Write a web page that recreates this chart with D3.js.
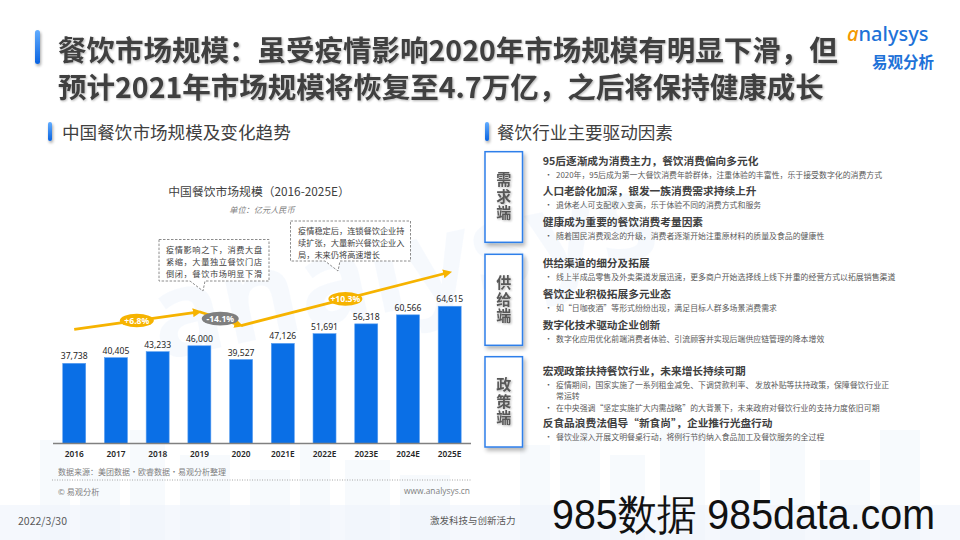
<!DOCTYPE html>
<html><head><meta charset="utf-8">
<script src="https://cdn.jsdelivr.net/npm/d3@7/dist/d3.min.js"></script>
<style>
html,body{margin:0;padding:0;background:#fff;}
svg{display:block;font-family:"Noto Sans CJK SC","Noto Sans",sans-serif;}
</style></head><body>
<svg id="c" width="960" height="540"></svg>
<script>
// ---------- DATA ----------
const titleLines = ['餐饮市场规模：虽受疫情影响2020年市场规模有明显下滑，但', '预计2021年市场规模将恢复至4.7万亿，之后将保持健康成长'];
const leftHeader = '中国餐饮市场规模及变化趋势';
const rightHeader = '餐饮行业主要驱动因素';
const chartTitle = '中国餐饮市场规模（2016-2025E）';
const chartUnit = '单位：亿元人民币';
const years = ['2016','2017','2018','2019','2020','2021E','2022E','2023E','2024E','2025E'];
const values = [37738, 40405, 43233, 46000, 39527, 47126, 51691, 56318, 60566, 64615];
const growthFrom = [0, 3, 4];
const growthTo = [3, 4, 9];
const growthLabels = ['+6.8%', '-14.1%', '+10.3%'];
const growthUp = [true, false, true];
const note1 = ['疫情影响之下，消费大盘', '紧缩，大量独立餐饮门店', '倒闭，餐饮市场明显下滑'];
const note2 = ['疫情稳定后，连锁餐饮企业持', '续扩张，大量新兴餐饮企业入', '局，未来仍将高速增长'];
const sourceText = '数据来源：美团数据·欧睿数据·易观分析整理';
const copyText = '© 易观分析';
const siteText = 'www.analysys.cn';
const driverLabels = ['需求端', '供给端', '政策端'];
const demandItems = [
  {h: '95后逐渐成为消费主力，餐饮消费偏向多元化', b: [['2020年，95后成为第一大餐饮消费年龄群体，注重体验的丰富性，乐于接受数字化的消费方式']]},
  {h: '人口老龄化加深，银发一族消费需求持续上升', b: [['退休老人可支配收入变高，乐于体验不同的消费方式和服务']]},
  {h: '健康成为重要的餐饮消费考量因素', b: [['随着国民消费观念的升级，消费者逐渐开始注重原材料的质量及食品的健康性']]}
];
const supplyItems = [
  {h: '供给渠道的细分及拓展', b: [['线上半成品零售及外卖渠道发展迅速，更多商户开始选择线上线下并重的经营方式以拓展销售渠道']]},
  {h: '餐饮企业积极拓展多元业态', b: [['如“日咖夜酒”等形式纷纷出现，满足目标人群多场景消费需求']]},
  {h: '数字化技术驱动企业创新', b: [['数字化应用优化前端消费者体验、引流顾客并实现后端供应链管理的降本增效']]}
];
const policyItems = [
  {h: '宏观政策扶持餐饮行业，未来增长持续可期', b: [['疫情期间，国家实施了一系列租金减免、下调贷款利率、 发放补贴等扶持政策，保障餐饮行业正', '常运转'], ['在中央强调“坚定实施扩大内需战略”的大背景下，未来政府对餐饮行业的支持力度依旧可期']]},
  {h: '反食品浪费法倡导“新食尚”，企业推行光盘行动', b: [['餐饮业深入开展文明餐桌行动，将例行节约纳入食品加工及餐饮服务的全过程']]}
];
const driverGroups = [demandItems, supplyItems, policyItems];
const footerDate = '2022/3/30';
const footerSlogan = '激发科技与创新活力';
const watermark = '985数据 985data.com';

// ---------- DRAW ----------
const svg = d3.select('#c');
const defs = svg.append('defs');
const g1 = defs.append('linearGradient').attr('id','bluebar').attr('x1',0).attr('y1',0).attr('x2',0).attr('y2',1);
g1.append('stop').attr('offset','0%').attr('stop-color','#62adff');
g1.append('stop').attr('offset','100%').attr('stop-color','#0a63e0');
const glow = defs.append('filter').attr('id','glow').attr('x','-200%').attr('y','-50%').attr('width','500%').attr('height','200%');
glow.append('feGaussianBlur').attr('in','SourceAlpha').attr('stdDeviation',1.5).attr('result','b');
glow.append('feOffset').attr('in','b').attr('dx',1).attr('dy',1.5).attr('result','o');
glow.append('feComponentTransfer').attr('in','o').attr('result','s').append('feFuncA').attr('type','linear').attr('slope',0.35);
const gm = glow.append('feMerge'); gm.append('feMergeNode').attr('in','s'); gm.append('feMergeNode').attr('in','SourceGraphic');
const shadow = defs.append('filter').attr('id','shadow').attr('x','-30%').attr('y','-20%').attr('width','160%').attr('height','140%');
shadow.append('feGaussianBlur').attr('in','SourceAlpha').attr('stdDeviation',2).attr('result','b');
shadow.append('feOffset').attr('in','b').attr('dx',2).attr('dy',3).attr('result','o');
shadow.append('feComponentTransfer').attr('in','o').attr('result','s').append('feFuncA').attr('type','linear').attr('slope',0.3);
const sm = shadow.append('feMerge'); sm.append('feMergeNode').attr('in','s'); sm.append('feMergeNode').attr('in','SourceGraphic');
const txtShadow = defs.append('filter').attr('id','tshadow').attr('x','-20%').attr('y','-20%').attr('width','140%').attr('height','140%');
txtShadow.append('feGaussianBlur').attr('in','SourceAlpha').attr('stdDeviation',0.8).attr('result','b');
txtShadow.append('feOffset').attr('in','b').attr('dx',1).attr('dy',1).attr('result','o');
txtShadow.append('feComponentTransfer').attr('in','o').attr('result','s').append('feFuncA').attr('type','linear').attr('slope',0.3);
const tm = txtShadow.append('feMerge'); tm.append('feMergeNode').attr('in','s'); tm.append('feMergeNode').attr('in','SourceGraphic');
const gold = '#F6B300';
defs.append('marker').attr('id','ahead').attr('viewBox','0 0 10 10').attr('refX',5).attr('refY',5)
  .attr('markerWidth',3.2).attr('markerHeight',3.2).attr('orient','auto').attr('markerUnits','strokeWidth')
  .append('path').attr('d','M0,0 L10,5 L0,10 z').attr('fill',gold);

// faint background skyline
const bg = svg.append('g').attr('fill','#e9f1fb').attr('opacity',0.35);
const bgBuildings = [[40,440,30,100],[80,470,40,70],[130,430,35,110],[180,455,50,85],[250,470,40,70],[300,445,30,95],[345,460,45,80],[400,475,50,65],[520,445,30,95],[560,420,40,120],[610,455,35,85],[660,430,45,110],[720,470,40,70],[770,440,35,100],[820,460,50,80],[880,430,40,110]];
bg.selectAll('rect').data(bgBuildings).join('rect').attr('x',d=>d[0]).attr('y',d=>d[1]).attr('width',d=>d[2]).attr('height',d=>d[3]);
svg.append('rect').attr('x',0).attr('y',505).attr('width',960).attr('height',35).attr('fill','#eef4fc').attr('opacity',0.6);

// faint watermark logo behind chart
svg.append('text').attr('x',150).attr('y',330).attr('font-size',120).attr('font-family','Noto Sans').attr('font-weight',700)
  .attr('fill','#2a7be4').attr('opacity',0.035).attr('transform','rotate(-12,300,300)').text('analysys');

// Title
svg.append('rect').attr('x',35).attr('y',30).attr('width',5).attr('height',34).attr('rx',2.5).attr('fill','url(#bluebar)').attr('filter','url(#glow)');
svg.selectAll('text.title').data(titleLines).join('text').attr('class','title')
  .attr('x',58).attr('y',(d,i)=>48+i*37).attr('dominant-baseline','central')
  .attr('font-size',28.5).attr('font-weight',700).attr('fill','#404040').attr('filter','url(#tshadow)').text(d=>d);

// Logo
const logo = svg.append('text').attr('x',847).attr('y',41).attr('font-family','Noto Sans').attr('font-size',20).attr('font-weight',500);
logo.append('tspan').attr('fill','#F39800').attr('font-style','italic').text('a');
logo.append('tspan').attr('fill','#1E72D8').text('nalysys');
svg.append('text').attr('x',903).attr('y',61).attr('text-anchor','middle').attr('dominant-baseline','central')
  .attr('font-size',15.5).attr('font-weight',700).attr('fill','#1E72D8').text('易观分析');

// Section headers
[[48,62,leftHeader],[485,497,rightHeader]].forEach(([bx,tx,t])=>{
  svg.append('rect').attr('x',bx).attr('y',122).attr('width',4).attr('height',19).attr('rx',2).attr('fill','url(#bluebar)').attr('filter','url(#glow)');
  svg.append('text').attr('x',tx).attr('y',131.5).attr('dominant-baseline','central').attr('font-size',17.6).attr('fill','#404040').text(t);
});

// Chart title
svg.append('text').attr('x',259).attr('y',190).attr('text-anchor','middle').attr('dominant-baseline','central')
  .attr('font-size',11.8).attr('fill','#404040').text(chartTitle);
svg.append('text').attr('x',262).attr('y',208.5).attr('text-anchor','middle').attr('dominant-baseline','central')
  .attr('font-size',8.2).attr('font-style','italic').attr('fill','#7f7f7f').text(chartUnit);

// Scales
const x = d3.scaleBand().domain(years).range([52.3, 471.6]).paddingInner(0.449).paddingOuter(0.25);
const y = d3.scaleLinear().domain([0, 70000]).range([443.5, 294.8]);
const barBlue = '#0A6FE6';

svg.append('g').selectAll('rect').data(values).join('rect')
  .attr('x',(d,i)=>x(years[i])).attr('y',d=>y(d)).attr('width',x.bandwidth()).attr('height',d=>y(0)-y(d))
  .attr('fill',barBlue).attr('stroke','#5a9ef0').attr('stroke-width',0.6);

svg.append('g').selectAll('text').data(values).join('text')
  .attr('x',(d,i)=>x(years[i])+x.bandwidth()/2).attr('y',d=>y(d)-7).attr('text-anchor','middle').attr('dominant-baseline','central')
  .attr('font-size',8.6).attr('font-family','Noto Sans').attr('fill','#262626').text(d=>d3.format(',')(d));

// x axis
const xAxis = svg.append('g').attr('transform',`translate(0,${y(0)})`).call(d3.axisBottom(x).tickSize(0).tickPadding(8));
xAxis.select('.domain').attr('stroke','#808080').attr('stroke-width',1.5).attr('d','M53,0H471');
xAxis.selectAll('text').attr('font-size',8.3).attr('font-family','Noto Sans').attr('font-weight',600).attr('fill','#262626');

// growth arrows
const pt = i => [x(years[i]) + x.bandwidth()/2, y(values[i]) - 34];
growthFrom.forEach((f,k)=>{
  const a = pt(f), b = pt(growthTo[k]);
  svg.append('line').attr('x1',a[0]).attr('y1',a[1]).attr('x2',b[0]-2).attr('y2',b[1] - (b[1]-a[1])*2/(b[0]-a[0]))
    .attr('stroke',gold).attr('stroke-width',2.8).attr('marker-end','url(#ahead)');
});
growthFrom.forEach((f,k)=>{
  const a = pt(f), b = pt(growthTo[k]);
  const cx = (a[0]+b[0])/2, cy = (a[1]+b[1])/2;
  svg.append('ellipse').attr('cx',cx).attr('cy',cy).attr('rx',growthUp[k]?17:18.5).attr('ry',6.8)
    .attr('fill',growthUp[k]?gold:'#7f7f7f');
  svg.append('text').attr('x',cx).attr('y',cy).attr('text-anchor','middle').attr('dominant-baseline','central')
    .attr('font-size',8.6).attr('font-family','Noto Sans').attr('font-weight',700).attr('fill','#fff').text(growthLabels[k]);
});

// annotation callouts
function callout(path, lines, tx, ty0, ls){
  svg.append('path').attr('d',path).attr('fill','#fff').attr('stroke','#8c8c8c').attr('stroke-width',1).attr('stroke-dasharray','2.5,1.5');
  const t = svg.append('text').attr('font-size',8.2).attr('letter-spacing',ls).attr('fill','#404040');
  t.selectAll('tspan').data(lines).join('tspan').attr('x',tx).attr('y',(d,i)=>ty0+i*12).attr('dominant-baseline','central').text(d=>d);
}
callout('M159,239.5H269V281H205L203,291L190,281H159Z', note1, 166, 249.3, 0.6);
callout('M290.5,221H410.5V261H340L338,271L325,261H290.5Z', note2, 298, 229.5, 0);

// source / footer of chart
svg.append('text').attr('x',58).attr('y',471.7).attr('dominant-baseline','central').attr('font-size',8).attr('fill','#7f7f7f').text(sourceText);
svg.append('line').attr('x1',52).attr('x2',471).attr('y1',480).attr('y2',480).attr('stroke','#a6a6a6').attr('stroke-width',1).attr('stroke-dasharray','1,1.5');
svg.append('text').attr('x',58).attr('y',490.7).attr('dominant-baseline','central').attr('font-size',8.2).attr('fill','#7f7f7f').text(copyText);
svg.append('text').attr('x',470).attr('y',490.7).attr('text-anchor','end').attr('dominant-baseline','central').attr('font-family','Open Sans').attr('font-size',8.4).attr('fill','#7f7f7f').text(siteText);

// Right panel
const boxTops = [151.7, 254.3, 356.7];
const boxH = [90.6, 91, 90.3];
const groupStart = [160, 262.7, 370];
driverLabels.forEach((lab,i)=>{
  svg.append('rect').attr('x',485).attr('y',boxTops[i]).attr('width',37.5).attr('height',boxH[i])
    .attr('fill','#fff').attr('stroke','#2F7FEA').attr('stroke-width',1.5).attr('filter','url(#shadow)');
  const cy = boxTops[i] + boxH[i]/2;
  svg.append('text').attr('x',503.7).attr('y',cy).attr('text-anchor','middle')
    .style('writing-mode','vertical-rl').attr('letter-spacing',1.6)
    .attr('font-size',15).attr('font-weight',700).attr('fill','#595959').attr('filter','url(#tshadow)').text(lab);
  let yy = groupStart[i];
  driverGroups[i].forEach((item,k)=>{
    if(k>0) yy += (i===2 ? 15 : 16.8);
    svg.append('text').attr('x',542.7).attr('y',yy).attr('dominant-baseline','central').attr('font-size',10.7)
      .attr('font-weight',700).attr('fill','#404040').text(item.h);
    yy += 14;
    item.b.forEach((bl,m)=>{
      if(m>0) yy += 12;
      svg.append('text').attr('x',544.5).attr('y',yy).attr('dominant-baseline','central').attr('font-size',8).attr('fill','#595959').text('•');
      bl.forEach((line,n)=>{
        if(n>0) yy += 11.5;
        svg.append('text').attr('x',556).attr('y',yy).attr('dominant-baseline','central').attr('font-size',7.9).attr('fill','#595959').text(line);
      });
    });
  });
});

// Page footer
svg.append('text').attr('x',18).attr('y',520).attr('dominant-baseline','central').attr('font-size',10.5).attr('fill','#595959').text(footerDate);
svg.append('text').attr('x',430).attr('y',520).attr('dominant-baseline','central').attr('font-size',9.5).attr('fill','#595959').text(footerSlogan);
svg.append('text').attr('x',552).attr('y',529).attr('font-family','Liberation Sans Narrow, Liberation Sans, sans-serif').attr('font-size',42)
  .attr('textLength',383).attr('lengthAdjust','spacingAndGlyphs').attr('fill','#111').text(watermark);
</script>
</body></html>
